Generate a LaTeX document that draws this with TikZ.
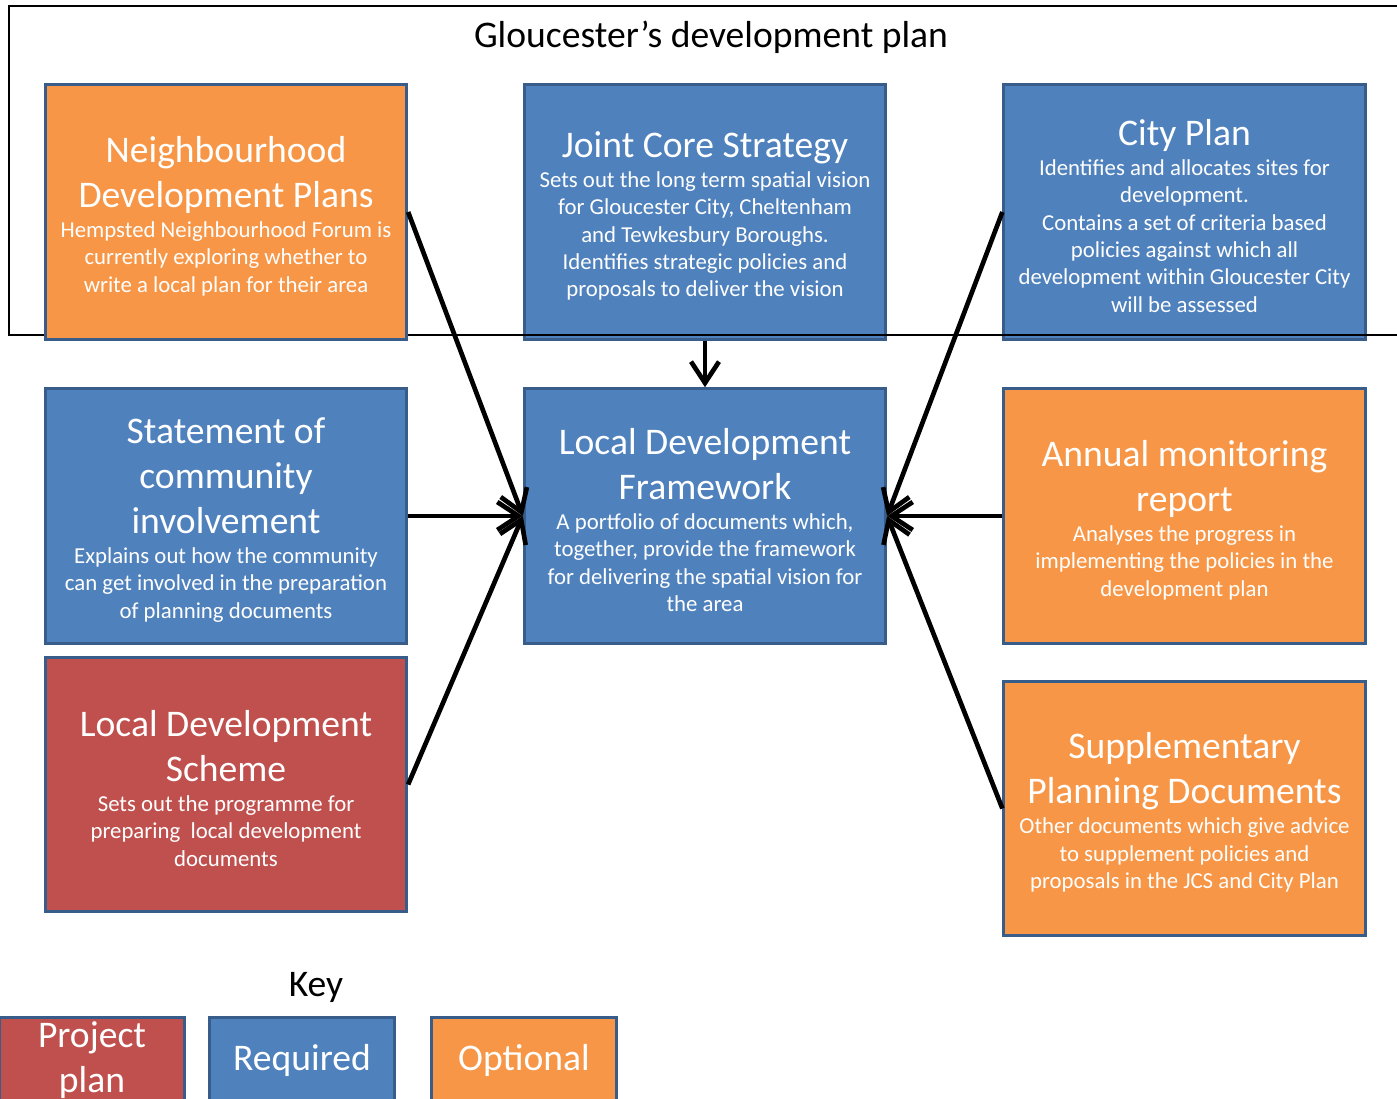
\documentclass[tikz,border=0pt]{standalone}
\usepackage{fontspec}
\setmainfont{Carlito}
\usepackage{xcolor}
\usepackage{tikz}
\usetikzlibrary{arrows.meta,positioning}
\definecolor{optfill}{RGB}{247,150,70}
\definecolor{reqfill}{RGB}{79,129,189}
\definecolor{projfill}{RGB}{192,80,77}
\definecolor{boxedge}{RGB}{56,93,138}
\newcommand{\TitleFont}{\fontsize{28.2}{33.75}\selectfont}
\newcommand{\BodyFont}{\fontsize{17.1}{20.5}\selectfont}
\tikzset{
  docbox/.style={draw=boxedge, line width=2.2pt, text=white, inner sep=0pt,
    minimum width=271pt, minimum height=191pt},
  keybox/.style={draw=boxedge, line width=2.2pt, text=white, inner sep=0pt,
    minimum width=139pt, minimum height=64pt, align=center, font=\TitleFont},
  optBox/.style={fill=optfill},      % optional documents
  reqBox/.style={fill=reqfill},      % required documents
  projBox/.style={fill=projfill},    % project plan
  planFrame/.style={draw=black, line width=1.1pt},
  feedArrow/.style={-{Straight Barb[length=16pt,width=21pt]}, line width=3.5pt}
}
% #1 = heading, #2 = description (text sits a little below centre)
\newcommand{\BoxText}[2]{\raisebox{-3pt}[\height][\depth]{\parbox{268pt}{\centering
  {\TitleFont #1\par}\vspace{2pt}{\BodyFont #2\par}}}}

\begin{document}
\begin{tikzpicture}[x=0.75pt, y=-0.75pt]
  \useasboundingbox (0,0) rectangle (1397,1099);
  % top row: the frame line runs over these two
  \node[docbox, reqBox] (jcs) at (705,212) {\BoxText{Joint Core Strategy}{Sets out the long term spatial vision\\for Gloucester City, Cheltenham\\and Tewkesbury Boroughs.\\Identifies strategic policies and\\proposals to deliver the vision}};
  \node[docbox, reqBox] (city) at (1184.5,212) {\BoxText{City Plan}{Identifies and allocates sites for\\development.\\Contains a set of criteria based\\policies against which all\\development within Gloucester City\\will be assessed}};
  \path[planFrame] (9,6) rectangle (1420,335);
  \node[font=\TitleFont] (plan) at (711,37) {Gloucester’s development plan};
  \node[docbox, optBox] (ndp) at (226,212) {\BoxText{Neighbourhood\\Development Plans}{Hempsted Neighbourhood Forum is\\currently exploring whether to\\write a local plan for their area}};
  % middle row
  \node[docbox, reqBox] (sci) at (226,516) {\BoxText{Statement of\\community\\involvement}{Explains out how the community\\can get involved in the preparation\\of planning documents}};
  \node[docbox, reqBox] (ldf) at (705,516) {\BoxText{Local Development\\Framework}{A portfolio of documents which,\\together, provide the framework\\for delivering the spatial vision for\\the area}};
  \node[docbox, optBox] (amr) at (1184.5,516) {\BoxText{Annual monitoring\\report}{Analyses the progress in\\implementing the policies in the\\development plan}};
  % bottom row
  \node[docbox, projBox] (lds) at (226,784.5) {\BoxText{Local Development\\Scheme}{Sets out the programme for\\preparing\ \ local development\\documents}};
  \node[docbox, optBox] (spd) at (1184.5,808.5) {\BoxText{Supplementary\\Planning Documents}{Other documents which give advice\\to supplement policies and\\proposals in the JCS and City Plan}};
  % everything feeds the framework
  \draw[feedArrow] (jcs.south) -- (ldf.north);
  \foreach \src in {ndp,sci,lds}{
    \draw[feedArrow] (\src.east) -- (ldf.west);
  }
  \foreach \src in {city,amr,spd}{
    \draw[feedArrow] (\src.west) -- (ldf.east);
  }
  % key
  \node[font=\TitleFont] (key) at (316,987) {Key};
  \node[keybox, projBox] (kproj) at (92,1060) {Project\\plan};
  \node[keybox, reqBox] (kreq) at (302,1060) {Required};
  \node[keybox, optBox] (kopt) at (524,1060) {Optional};
\end{tikzpicture}
\end{document}
